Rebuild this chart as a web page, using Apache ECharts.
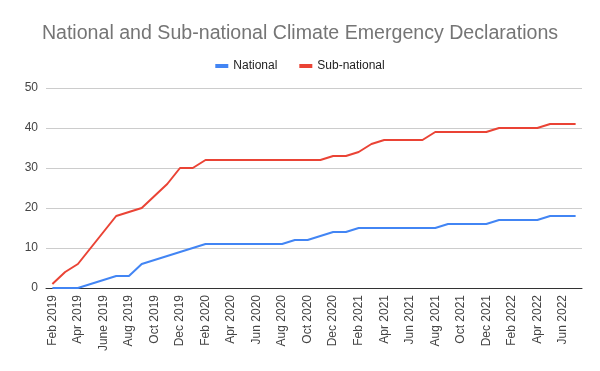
<!DOCTYPE html>
<html>
<head>
<meta charset="utf-8">
<script src="https://cdn.jsdelivr.net/npm/echarts@6/dist/echarts.min.js"></script>
<style>html,body{margin:0;padding:0;background:#fff}#c{width:600px;height:371px}</style>
</head>
<body>
<div id="c"></div>
<script>
const months = [
  "Feb 2019","Mar 2019","Apr 2019","May 2019","June 2019","Jul 2019","Aug 2019","Sep 2019","Oct 2019","Nov 2019","Dec 2019",
  "Jan 2020","Feb 2020","Mar 2020","Apr 2020","May 2020","Jun 2020","Jul 2020","Aug 2020","Sep 2020","Oct 2020","Nov 2020","Dec 2020",
  "Jan 2021","Feb 2021","Mar 2021","Apr 2021","May 2021","Jun 2021","Jul 2021","Aug 2021","Sep 2021","Oct 2021","Nov 2021","Dec 2021",
  "Jan 2022","Feb 2022","Mar 2022","Apr 2022","May 2022","Jun 2022","Jul 2022"
];
const national = [
  0,0,0,1,2,3,3,6,7,8,9,
  10,11,11,11,11,11,11,11,12,12,13,14,
  14,15,15,15,15,15,15,15,16,16,16,16,
  17,17,17,17,18,18,18
];
const subNational = [
  1,4,6,10,14,18,19,20,23,26,30,
  30,32,32,32,32,32,32,32,32,32,32,33,
  33,34,36,37,37,37,37,39,39,39,39,39,
  40,40,40,40,41,41,41
];
const yTicks = [0,10,20,30,40,50];

const FONT = '"Liberation Sans", Arial, sans-serif';
const chart = echarts.init(document.getElementById('c'), null, {renderer:'canvas'});
chart.setOption({
  animation:false,
  backgroundColor:'#ffffff',
  title:{
    text:'National and Sub-national Climate Emergency Declarations',
    left:'center', top:19,
    textStyle:{fontFamily:FONT, fontSize:19.6, fontWeight:'normal', color:'#757575'}
  },
  legend:{
    top:55, left:'center',
    itemWidth:13, itemHeight:4, itemGap:22,
    icon:'rect',
    textStyle:{fontFamily:FONT, fontSize:12, color:'#222222'},
    data:['National','Sub-national']
  },
  grid:{left:46, right:18, top:88, bottom:83, containLabel:false},
  xAxis:{
    type:'category', data:months, boundaryGap:true,
    axisLine:{lineStyle:{color:'#333333', width:1}},
    axisTick:{show:false},
    axisLabel:{interval:1, rotate:90, fontFamily:FONT, fontSize:12, color:'#444444', margin:7}
  },
  yAxis:{
    type:'value', min:yTicks[0], max:yTicks[yTicks.length-1], interval:10,
    axisLine:{show:false}, axisTick:{show:false},
    splitLine:{lineStyle:{color:'#cccccc', width:1}},
    axisLabel:{fontFamily:FONT, fontSize:12, color:'#444444', margin:8}
  },
  series:[
    {name:'National', type:'line', data:national, showSymbol:false, symbol:'none',
     lineStyle:{color:'#4285F4', width:2}, itemStyle:{color:'#4285F4'}},
    {name:'Sub-national', type:'line', data:subNational, showSymbol:false, symbol:'none',
     lineStyle:{color:'#EA4335', width:2}, itemStyle:{color:'#EA4335'}}
  ]
});
</script>
</body>
</html>
